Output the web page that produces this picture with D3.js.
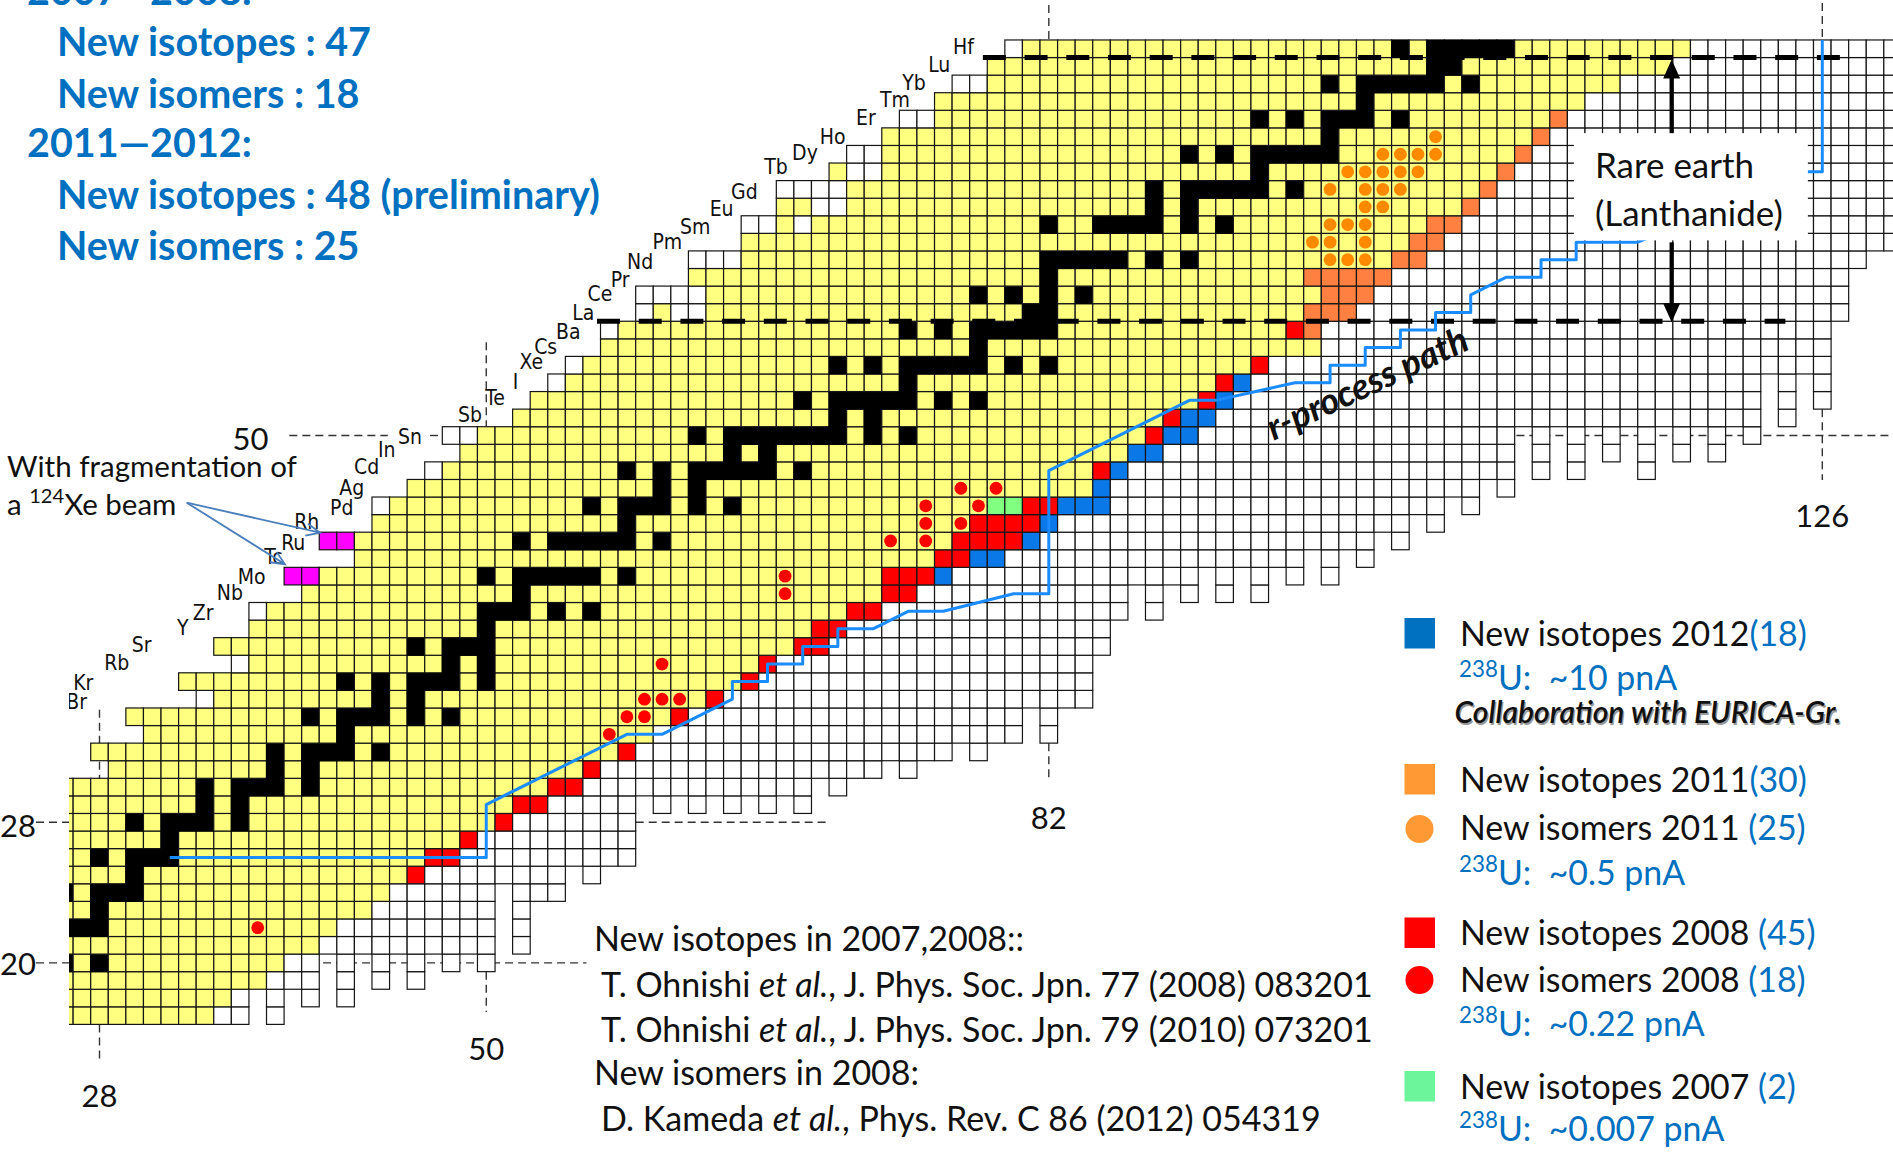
<!DOCTYPE html>
<html>
<head>
<meta charset="utf-8">
<script src="https://cdn.jsdelivr.net/npm/d3@7"></script>
<style>
  html, body { margin: 0; padding: 0; background: #fff; }
  svg { display: block; }
  text { font-family: Lato, "Open Sans", sans-serif; }
</style>
</head>
<body>
<div id="chart"></div>
<script>
////////////////////////////////////////////////////////////////////
//////////////////////////////  Data  //////////////////////////////
// rows of the chart: proton number Z = 17 .. 72
const zValues = d3.range(17, 73);
// first N drawn in each row
const rowStart = [26,26,26,26,26,26,26,26,26,26,26,26,26,26,
  29,28,31,30,34,33,36,35,37,37,40,39,43,41,44,44,46,47,49,48,
  52,53,54,55,57,57,59,59,62,62,65,65,67,67,70,71,73,74,76,77,79,80];
// last known (yellow) N in each row
const yellowEnd = [34,35,37,38,40,41,43,44,45,46,
  48,50,51,53,55,57,59,60,62,64,
  65,67,68,70,72,72,75,76,77,78,
  84,84,86,87,88,90,91,93,97,95,
  96,97,96,101,102,103,105,106,107,108,
  109,110,112,114,117,118];
// columns N = 26 .. 130 : lowest Z of the predicted (white) cells
const nValues = d3.range(26, 131);
const colBottom = [17,17,17,17,17,17,17,17,17,17,17,
  19,17,19,18,21,18,21,19,21,19,21,20,21,20,
  25,21,24,24,26,25,26,26,
  30,29,30,29,30,29,30,29,30,29,
  31,30,31,31,32,31,32,32,33,32,33,33,
  35,33,35,35,38,40,42,40,42,41,
  43,41,43,41,43,42,44,42,44,43,
  45,44,46,45,47,46,48,47,51,48,
  51,48,51,49,51,48,51,49,51,49,
  51,50,54,51,54,52,57,60,61,61];
// unknown cells on the proton-rich side [Z, N]
const protonWhite = [[35,34],[37,36],[40,37],[46,44],[48,47],[50,48],[50,49],[53,54],[54,55],
  [56,57],[57,59],[57,61],[57,62],[58,59],[58,60],[58,61],[58,62],[60,62],[60,63],[60,64],
  [62,65],[62,66],[62,68],[63,69],[63,70],[64,67],[64,68],[64,69],[64,70],[65,71],[65,72],
  [66,71],[66,72],[68,74],[68,75],[70,77],[70,78],[72,80]];
// stable nuclides [Z, [N...]]
const stableIsotopes = [
  [20,[26,28]],[22,[26,27,28]],[23,[28]],[24,[26,28,29,30]],[25,[30]],[26,[28,30,31,32]],
  [27,[32]],[28,[30,32,33,34,36]],[29,[34,36]],[30,[34,36,37,38,40]],[31,[38,40]],
  [32,[38,40,41,42,44]],[33,[42]],[34,[40,42,43,44,46,48]],[35,[44,46]],[36,[42,44,46,47,48,50]],
  [37,[48,50]],[38,[46,48,49,50]],[39,[50]],[40,[50,51,52,54,56]],[41,[52]],
  [42,[50,52,53,54,55,56,58]],[44,[52,54,55,56,57,58,60]],[45,[58]],[46,[56,58,59,60,62,64]],
  [47,[60,62]],[48,[58,60,62,63,64,65,66,68]],[49,[64,66]],[50,[62,64,65,66,67,68,69,70,72,74]],
  [51,[70,72]],[52,[68,70,71,72,73,74,76,78]],[53,[74]],[54,[70,72,74,75,76,77,78,80,82]],
  [55,[78]],[56,[74,76,78,79,80,81,82]],[57,[81,82]],[58,[78,80,82,84]],[59,[82]],
  [60,[82,83,84,85,86,88,90]],[62,[82,85,86,87,88,90,92]],[63,[88,90]],[64,[88,90,91,92,93,94,96]],
  [65,[94]],[66,[90,92,94,95,96,97,98]],[67,[98]],[68,[94,96,98,99,100,102]],[69,[100]],
  [70,[98,100,101,102,103,104,106]],[71,[104,105]],[72,[102,104,105,106,107,108]]];
// new isotopes [Z, N]
const newIsotopes2007 = [[46,79],[46,80]];
const newIsotopes2008 = [[25,46],[26,47],[26,48],[27,49],[28,51],[29,52],[29,53],[30,54],[30,55],
  [31,56],[32,58],[34,61],[35,63],[36,65],[37,66],[38,68],[38,69],[39,69],[39,70],[40,71],[40,72],
  [41,73],[41,74],[42,73],[42,74],[42,75],[43,76],[43,77],[44,77],[44,78],[44,79],[44,80],
  [45,78],[45,79],[45,80],[45,81],[46,81],[46,82],[48,85],[50,88],[51,89],[52,91],[53,92],[54,94],[56,96]];
const newIsotopes2011 = [[56,97],[57,97],[57,98],[57,99],[58,98],[58,99],[58,100],
  [59,97],[59,98],[59,99],[59,100],[59,101],[60,102],[60,103],[61,103],[61,104],[62,104],[62,105],
  [63,106],[64,107],[65,108],[66,109],[67,110],[68,111]];
const newIsotopes2012 = [[42,76],[43,78],[43,79],[44,81],[45,82],[46,83],[46,84],[46,85],[47,85],
  [48,86],[49,87],[49,88],[50,89],[50,90],[51,90],[51,91],[52,92],[53,93]];
const xeBeamIsotopes = [[44,41],[44,42],[42,39],[42,40]];
// new isomers [Z, N]
const newIsomers2008 = [[22,37],[33,57],[34,58],[34,59],[35,59],[35,60],[35,61],[37,60],[41,67],
  [42,67],[44,73],[44,75],[45,75],[46,75],[45,77],[47,77],[46,78],[47,79]];
const newIsomers2011 = [[67,104],[66,101],[66,102],[66,103],[66,104],[65,99],[65,100],[65,101],
  [65,102],[65,103],[64,98],[64,100],[64,101],[64,102],[63,100],[63,101],[62,98],[62,99],[62,100],
  [61,97],[61,98],[61,100],[60,98],[60,99],[60,100]];
// r-process path [N, Z]
const rProcessPath = [[32,26],[50,26],[50,29],[58,33],[60,33],[64,35],[64,36],[66,36],[66,37],
  [68,37],[68,38],[70,38],[70,39],[72,39],[74,40],[76,40],[80,41],[82,41],[82,48],[90,52],[91.5,52],
  [96,53],[98,53],[98,54],[100,54],[100,55],[102,55],[102,56],[104,56],[104,57],[106,57],[106,58],
  [108,59],[110,59],[110,60],[112,60],[112,61],[115.5,61],[118,62],[122,64],[125,65],[126,65],[126,72.5]];
// element labels (Z = 35 .. 72) and their place in (N, Z)
const elementSymbols = ["Br","Kr","Rb","Sr","Y","Zr","Nb","Mo","Tc","Ru","Rh","Pd","Ag","Cd","In","Sn",
  "Sb","Te","I","Xe","Cs","Ba","La","Ce","Pr","Nd","Pm","Sm","Eu","Gd","Tb","Dy","Ho","Er","Tm","Yb","Lu","Hf"];
const labelN = [26.7,27.08,28.98,30.4,32.73,33.9,35.42,36.66,37.89,39.02,39.79,41.78,42.35,43.2,44.34,45.66,
  49.08,50.5,51.66,52.56,53.38,54.67,55.52,56.47,57.61,58.75,60.3,61.88,63.39,64.68,66.48,68.13,69.71,
  71.6,73.25,74.33,75.77,77.14];
const labelZ = [34.86,35.9,37.04,38.08,39.03,39.89,41.02,41.97,43.1,43.9,45.1,45.86,47.0,48.23,49.18,49.93,
  51.17,52.12,53.07,54.17,55.06,55.9,56.95,58.05,58.85,59.89,61.02,61.88,62.87,63.87,65.29,66.05,67.0,
  68.04,69.08,70.03,71.08,72.12];
// lanthanide band borders: [Z, N from, N to]
const lanthanideLines = [[71.5, 78.25, 127.3], [56.5, 56.3, 123.9]];

// texts
const headingLines = ["2007\u20142008:", "New isotopes : 47", "New isomers : 18",
  "2011\u20142012:", "New isotopes : 48 (preliminary)", "New isomers : 25"];
const legendEntries = [
  { mark: "square", color: "#0070c0", label: "New isotopes 2012", count: "(18)", beam: "~10 pnA" },
  { mark: "square", color: "#ff9933", label: "New isotopes 2011", count: "(30)" },
  { mark: "circle", color: "#ff9933", label: "New isomers 2011 ", count: "(25)", beam: "~0.5 pnA" },
  { mark: "square", color: "#ff0000", label: "New isotopes 2008 ", count: "(45)" },
  { mark: "circle", color: "#ff0000", label: "New isomers 2008 ", count: "(18)", beam: "~0.22 pnA" },
  { mark: "square", color: "#6cf59a", label: "New isotopes 2007 ", count: "(2)", beam: "~0.007 pnA" }];
const references = [
  [{ t: "New isotopes in 2007,2008::" }],
  [{ t: "T. Ohnishi " }, { t: "et al.", i: true }, { t: ", J. Phys. Soc. Jpn. 77 (2008) 083201" }],
  [{ t: "T. Ohnishi " }, { t: "et al.", i: true }, { t: ", J. Phys. Soc. Jpn. 79 (2010) 073201" }],
  [{ t: "New isomers in 2008:" }],
  [{ t: "D. Kameda " }, { t: "et al.", i: true }, { t: ", Phys. Rev. C 86 (2012) 054319" }]];

////////////////////////////////////////////////////////////////////
//////////////////////////////  Init  //////////////////////////////
const width = 1893, height = 1153;
const svg = d3.select("#chart").append("svg").attr("width", width).attr("height", height);
svg.append("rect").attr("width", width).attr("height", height).attr("fill", "#fff");

// scales: N -> x, Z -> y
const x = d3.scaleLinear().domain([28, 126]).range([99.5, 1822.3]);
const y = d3.scaleLinear().domain([50, 72]).range([435.5, 48.76]);
const cw = x(1) - x(0);

const fillColor = {
  known: "#ffff80", unknown: "#ffffff", stable: "#000000", n2007: "#80ff80",
  n2008: "#ff0000", n2011: "#ff8040", n2012: "#0a78e6", xe: "#ff00ff"
};

svg.append("clipPath").attr("id", "chartClip")
  .append("rect").attr("x", 69).attr("y", 0).attr("width", width - 69).attr("height", height);
const chart = svg.append("g").attr("clip-path", "url(#chartClip)");

function fit(sel, target) {
  const len = sel.node().getComputedTextLength();
  const fs = parseFloat(sel.attr("font-size"));
  sel.attr("font-size", fs * target / len);
  return fs * target / len;
}

// thin dashed magic-number lines (under the cells)
const thin = [
  [x(28), y(34.4), x(28), y(30.5)], [x(28), y(16.5), x(28), 1060],
  [x(50), y(55.3), x(50), y(50.5)], [x(50), y(19.5), x(50), 1012],
  [x(82), 5, x(82), y(72.5)], [x(82), y(32.5), x(82), 780],
  [x(126), 3, x(126), y(72.5)], [x(126), y(51.5), x(126), 480],
  [x(38.5), y(20), x(55.7), y(20)], [x(58.5), y(28), x(69.5), y(28)],
  [x(38.8), y(50), x(44.4), y(50)], [x(46.8), y(50), x(47.4), y(50)],
  [x(108.6), y(50), width, y(50)]
];
chart.selectAll(".magic").data(thin).join("line")
  .attr("x1", d => d[0]).attr("y1", d => d[1]).attr("x2", d => d[2]).attr("y2", d => d[3])
  .attr("stroke", "#333").attr("stroke-width", 1.4).attr("stroke-dasharray", "8,5");
// left parts outside the chart picture
svg.selectAll(".magicLeft").data([28, 20]).join("line")
  .attr("x1", 36).attr("x2", 69).attr("y1", d => y(d)).attr("y2", d => y(d))
  .attr("stroke", "#333").attr("stroke-width", 1.4).attr("stroke-dasharray", "8,5");

////////////////////////////////////////////////////////////////////
//////////////////////////////  Cells  /////////////////////////////
const key = (z, n) => z * 1000 + n;
const special = new Map();
[[newIsotopes2007, "n2007"], [newIsotopes2008, "n2008"], [newIsotopes2011, "n2011"],
 [newIsotopes2012, "n2012"], [xeBeamIsotopes, "xe"]]
  .forEach(([list, t]) => list.forEach(([z, n]) => special.set(key(z, n), t)));
const whiteSet = new Set(protonWhite.map(([z, n]) => key(z, n)));
const stableSet = new Set();
stableIsotopes.forEach(([z, ns]) => ns.forEach(n => stableSet.add(key(z, n))));

const cells = [];
zValues.forEach((z, i) => {
  for (let n = rowStart[i]; n <= 130; n++) {
    const k = key(z, n);
    let t = null;
    if (special.has(k)) t = special.get(k);
    else if (n <= yellowEnd[i]) t = stableSet.has(k) ? "stable" : (whiteSet.has(k) ? "unknown" : "known");
    else if (z >= colBottom[nValues.indexOf(n)]) t = "unknown";
    if (t) cells.push({ z, n, t });
  }
});

chart.append("g").selectAll("rect").data(cells).join("rect")
  .attr("x", d => x(d.n) - cw / 2).attr("y", d => y(d.z) - cw / 2)
  .attr("width", cw).attr("height", cw)
  .attr("fill", d => fillColor[d.t])
  .attr("stroke", d => d.t === "stable" ? "#000" : "#151515")
  .attr("stroke-width", 1.2);

// isomers
chart.append("g").selectAll("circle").data(newIsomers2008).join("circle")
  .attr("cx", d => x(d[1])).attr("cy", d => y(d[0])).attr("r", 6.4).attr("fill", "#ff0000");
chart.append("g").selectAll("circle").data(newIsomers2011).join("circle")
  .attr("cx", d => x(d[1])).attr("cy", d => y(d[0])).attr("r", 6.4).attr("fill", "#ff8a00");

// lanthanide borders
chart.selectAll(".lan").data(lanthanideLines).join("line")
  .attr("x1", d => x(d[1])).attr("x2", d => x(d[2])).attr("y1", d => y(d[0])).attr("y2", d => y(d[0]))
  .attr("stroke", "#000").attr("stroke-width", 5).attr("stroke-dasharray", "23,18.7");

// r-process path
chart.append("path").datum(rProcessPath)
  .attr("d", d3.line().x(d => x(d[0])).y(d => y(d[1])))
  .attr("fill", "none").attr("stroke", "#1a8cff").attr("stroke-width", 3).attr("stroke-linejoin", "round");

// element labels
chart.append("g").selectAll("text").data(elementSymbols).join("text")
  .attr("x", (d, i) => x(labelN[i])).attr("y", (d, i) => y(labelZ[i]))
  .attr("text-anchor", "middle").attr("dominant-baseline", "central")
  .style("font-family", '"DejaVu Sans Condensed", "DejaVu Sans", sans-serif')
  .style("font-stretch", "condensed")
  .attr("font-size", 21).attr("fill", "#111").text(d => d);

// rare earth box
const boxX0 = x(111.87), boxX1 = x(125.18), boxY0 = y(67.2), boxY1 = y(61.1);
chart.append("rect").attr("x", boxX0).attr("y", boxY0).attr("width", boxX1 - boxX0).attr("height", boxY1 - boxY0)
  .attr("fill", "#fff");
const reText1 = chart.append("text").attr("x", boxX0 + 21).attr("y", boxY0 + 45).attr("font-size", 32).attr("fill", "#111").text("Rare earth");
const reText2 = chart.append("text").attr("x", boxX0 + 21).attr("y", boxY0 + 93).attr("font-size", 32).attr("fill", "#111").text("(Lanthanide)");
const reSize = fit(reText2, 188);
reText1.attr("font-size", reSize);
const ax = x(117.43);
chart.append("line").attr("x1", ax).attr("x2", ax).attr("y1", boxY0).attr("y2", y(71.5) + 16)
  .attr("stroke", "#000").attr("stroke-width", 4.2);
chart.append("line").attr("x1", ax).attr("x2", ax).attr("y1", boxY1 + 2).attr("y2", y(56.5) - 16)
  .attr("stroke", "#000").attr("stroke-width", 4.2);
chart.append("path").attr("d", `M${ax},${y(71.5) + 2} l-8.5,19 h17 z`).attr("fill", "#000");
chart.append("path").attr("d", `M${ax},${y(56.5) + 1} l-8.5,-19 h17 z`).attr("fill", "#000");

// r-process text
const rText = chart.append("text")
  .attr("transform", `translate(${x(94.8)},${y(49.7)}) rotate(-25)`)
  .attr("font-size", 28).attr("font-style", "italic").attr("font-weight", 700).attr("fill", "#111")
  .text("r-process path");
fit(rText, 218);

////////////////////////////////////////////////////////////////////
//////////////////////////////  Texts  //////////////////////////////
// magic numbers
const magicLabels = [["50", 250.5, 450, "middle"], ["28", 0, 837, "start"], ["20", 0, 975, "start"],
  ["28", x(28), 1107, "middle"], ["50", x(50), 1060, "middle"], ["82", x(82), 829, "middle"],
  ["126", x(126), 527, "middle"]];
svg.selectAll(".mlab").data(magicLabels).join("text")
  .attr("x", d => d[1]).attr("y", d => d[2]).attr("text-anchor", d => d[3])
  .attr("font-size", 31).attr("fill", "#111").text(d => d[0]);

// heading (blue)
const headBase = [5, 56, 108, 157, 209, 260];
const heads = svg.selectAll(".head").data(headingLines).join("text")
  .attr("x", (d, i) => (i === 0 || i === 3) ? 27 : 57).attr("y", (d, i) => headBase[i])
  .attr("font-size", 36).attr("font-weight", 700).attr("fill", "#0070c0").text(d => d);
const headSize = fit(d3.select(heads.nodes()[4]), 543);
heads.attr("font-size", headSize);

// xe beam annotation
const ann1 = svg.append("text").attr("x", 7).attr("y", 477).attr("font-size", 26).attr("fill", "#111")
  .text("With fragmentation of");
const annSize = fit(ann1, 290);
const ann2 = svg.append("text").attr("x", 7).attr("y", 515).attr("font-size", annSize).attr("fill", "#111");
ann2.append("tspan").text("a ");
ann2.append("tspan").attr("font-size", "68%").attr("baseline-shift", "super").text("124");
ann2.append("tspan").text("Xe beam");
const arrowStart = [186.7, 502.7];
const arrowTips = [[x(40.5) + 0.8, y(44.5) + 0.5], [x(38.5) + 0.9, y(42.5) - 3]];
arrowTips.forEach(tip => {
  const ang = Math.atan2(tip[1] - arrowStart[1], tip[0] - arrowStart[0]);
  const head = 15, spread = 0.42;
  svg.append("path")
    .attr("d", `M${arrowStart[0]},${arrowStart[1]} L${tip[0]},${tip[1]}` +
      ` M${tip[0] - head * Math.cos(ang - spread)},${tip[1] - head * Math.sin(ang - spread)} L${tip[0]},${tip[1]}` +
      ` L${tip[0] - head * Math.cos(ang + spread)},${tip[1] - head * Math.sin(ang + spread)}`)
    .attr("fill", "none").attr("stroke", "#4a7ebb").attr("stroke-width", 1.8);
});

// legend
const legendLayout = [
  { top: 618, base: 646, beamBase: 690 },
  { top: 764, base: 792 },
  { top: 815, base: 840, beamBase: 885 },
  { top: 917.5, base: 945 },
  { top: 966, base: 992, beamBase: 1036 },
  { top: 1071, base: 1099, beamBase: 1141 }];
const legend = svg.append("g");
const legendTexts = [];
legendEntries.forEach((e, i) => {
  const L = legendLayout[i];
  if (e.mark === "square") {
    legend.append("rect").attr("x", 1404.5).attr("y", L.top).attr("width", 30.5).attr("height", 30.5).attr("fill", e.color);
  } else {
    legend.append("circle").attr("cx", 1419.5).attr("cy", L.top + 14).attr("r", 14).attr("fill", e.color);
  }
  const t = legend.append("text").attr("x", 1460).attr("y", L.base).attr("font-size", 31).attr("fill", "#111")
    .style("white-space", "pre");
  t.append("tspan").text(e.label);
  t.append("tspan").attr("fill", "#0070c0").text(e.count);
  legendTexts.push(t);
  if (e.beam) {
    const b = legend.append("text").attr("x", 1459).attr("y", L.beamBase).attr("font-size", 31).attr("fill", "#0070c0")
      .style("white-space", "pre");
    b.append("tspan").attr("font-size", "66%").attr("baseline-shift", "super").text("238");
    b.append("tspan").text("U:  " + e.beam);
    legendTexts.push(b);
  }
});
const legSize = fit(legendTexts[0], 347);
legendTexts.forEach(t => t.attr("font-size", legSize));
legend.append("text").attr("x", 1455.8).attr("y", 724.5).attr("font-size", 25).attr("font-style", "italic")
  .attr("font-weight", 600).attr("fill", "#999").text("Collaboration with EURICA-Gr.").call(s => fit(s, 387));
legend.append("text").attr("x", 1454.5).attr("y", 723).attr("font-size", 25).attr("font-style", "italic")
  .attr("font-weight", 600).attr("fill", "#111").text("Collaboration with EURICA-Gr.").call(s => fit(s, 387));

// references
const refX = [594, 601, 601, 594, 601];
const refBase = [951, 997, 1042, 1085, 1131];
const refTexts = references.map((parts, i) => {
  const t = svg.append("text").attr("x", refX[i]).attr("y", refBase[i]).attr("font-size", 30).attr("fill", "#111")
    .style("white-space", "pre");
  parts.forEach(p => {
    const ts = t.append("tspan").text(p.t);
    if (p.i) ts.attr("font-style", "italic");
  });
  return t;
});
const refSize = fit(refTexts[1], 772);
refTexts.forEach(t => t.attr("font-size", refSize));
</script>
</body>
</html>
